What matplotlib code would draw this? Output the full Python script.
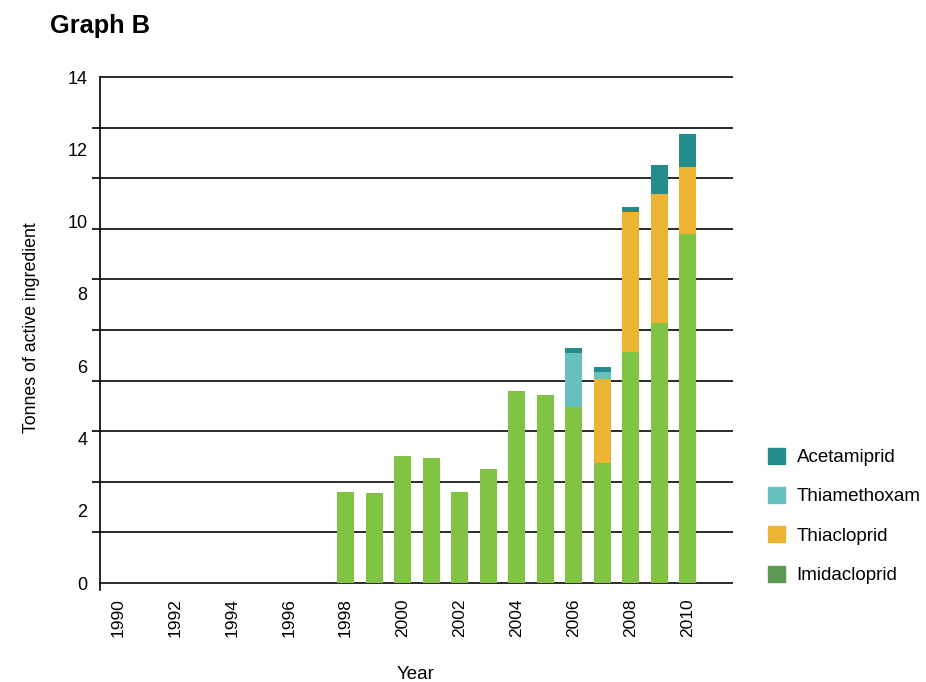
import numpy as np
import matplotlib
matplotlib.use("Agg")
import matplotlib.pyplot as plt
from matplotlib.patches import Patch

plt.rcParams['font.family'] = ['Liberation Sans', 'DejaVu Sans']

years = [1998, 1999, 2000, 2001, 2002, 2003, 2004, 2005, 2006, 2007, 2008, 2009, 2010]
imidacloprid = [2.52, 2.49, 3.51, 3.46, 2.52, 3.15, 5.31, 5.20, 4.87, 3.32, 6.39, 7.18, 9.66]
thiacloprid = [0, 0, 0, 0, 0, 0, 0, 0, 0, 2.32, 3.88, 3.58, 1.85]
thiamethoxam = [0, 0, 0, 0, 0, 0, 0, 0, 1.49, 0.20, 0, 0, 0]
acetamiprid = [0, 0, 0, 0, 0, 0, 0, 0, 0.14, 0.14, 0.13, 0.81, 0.91]

xticks = list(range(1990, 2011, 2))
yticks = [0, 2, 4, 6, 8, 10, 12, 14]
gridlines = [0, 1.4, 2.8, 4.2, 5.6, 7.0, 8.4, 9.8, 11.2, 12.6, 14.0]

c_imi_bar = '#80C242'
c_imi_leg = '#5B9955'
c_thiac = '#EBB533'
c_thiam = '#66C0BD'
c_acet = '#248C8C'

W, H = 926, 682
fig = plt.figure(figsize=(W / 100, H / 100), dpi=100)
ax = fig.add_axes([100 / W, 1 - 583 / H, (732 - 100) / W, (583 - 77) / H])

x = np.array(years)
imi = np.array(imidacloprid)
tc = np.array(thiacloprid)
tm = np.array(thiamethoxam)
ac = np.array(acetamiprid)
bw = 0.6
ax.bar(x, imi, bw, color=c_imi_bar, zorder=3)
ax.bar(x, tc, bw, bottom=imi, color=c_thiac, zorder=3)
ax.bar(x, tm, bw, bottom=imi + tc, color=c_thiam, zorder=3)
ax.bar(x, ac, bw, bottom=imi + tc + tm, color=c_acet, zorder=3)

ax.set_xlim(1989.38, 2011.56)
ax.set_ylim(0, 14)

for g in gridlines:
    ax.axhline(g, color='#2a2a2a', lw=1.4, zorder=2, clip_on=False)

for s in ['top', 'right', 'bottom']:
    ax.spines[s].set_visible(False)
ax.spines['left'].set_color('black')
ax.spines['left'].set_linewidth(1.2)
ax.spines['left'].set_bounds(-0.2, 14)
ax.spines['left'].set_zorder(4)
ax.set_ylim(0, 14)

ax.set_yticks(yticks)
ax.set_yticklabels([str(v) for v in yticks], fontsize=13)
ax.set_yticks(gridlines, minor=True)
ax.tick_params(axis='y', which='major', length=0, pad=9)
ax.tick_params(axis='y', which='minor', length=6, width=1.2, color='black')

ax.set_xticks(xticks)
ax.set_xticklabels([str(v) for v in xticks], rotation=90, fontsize=12.5)
ax.tick_params(axis='x', length=0, pad=11)

ax.set_ylabel('Tonnes of active ingredient', fontsize=12.8)
ax.set_xlabel('Year', fontsize=13.5, labelpad=21)
ax.yaxis.set_label_coords(-0.095, 0.505)

fig.text(50 / W, 1 - 26 / H, 'Graph B', fontsize=18.3, fontweight='bold', va='center', ha='left')

handles = [Patch(color=c_acet), Patch(color=c_thiam), Patch(color=c_thiac), Patch(color=c_imi_leg)]
labels = ['Acetamiprid', 'Thiamethoxam', 'Thiacloprid', 'Imidacloprid']
leg = fig.legend(handles, labels, loc='upper left', bbox_to_anchor=(760 / W, 1 - 440 / H),
                 frameon=False, fontsize=13.5, handlelength=0.95, handleheight=0.95,
                 labelspacing=1.11, handletextpad=0.6, borderaxespad=0)

fig.savefig('out.png', dpi=100)
